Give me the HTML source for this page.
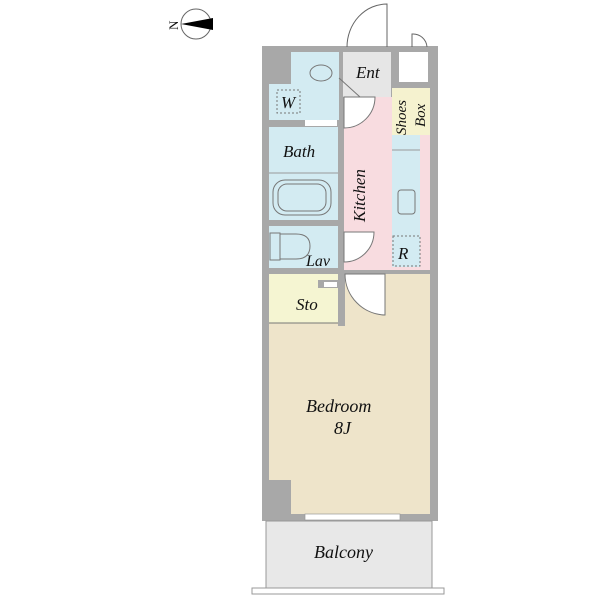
<!DOCTYPE html>
<html><head><style>body{margin:0;background:#fff}svg{display:block}text{font-family:"Liberation Serif",serif;font-style:italic;fill:#111}</style></head><body>
<svg width="600" height="600" viewBox="0 0 600 600">
<circle cx="196" cy="24" r="15" fill="#fff" stroke="#666" stroke-width="1"/>
<polygon points="181,24 213,18 213,30" fill="#000"/>
<text x="166" y="30" font-size="13" style="font-style:normal" transform="rotate(-90 172 24)">N</text>
<rect x="262" y="46" width="176" height="475" fill="#a8a8a8"/>
<rect x="343" y="52" width="48" height="45" fill="#e6e6e6"/>
<rect x="399" y="52" width="29" height="30" fill="#fff"/>
<rect x="269" y="52" width="70" height="68" fill="#d3ebf2"/>
<rect x="269" y="52" width="22" height="32" fill="#a8a8a8"/>
<rect x="291" y="52" width="48" height="6" fill="#d3ebf2"/>
<ellipse cx="321" cy="73" rx="11" ry="8" fill="none" stroke="#777"/>
<rect x="277" y="90" width="23" height="23" fill="none" stroke="#777" stroke-dasharray="2,2"/>
<rect x="305" y="120" width="32" height="6" fill="#fff"/>
<rect x="269" y="127" width="69" height="93" fill="#d3ebf2"/>
<line x1="269" y1="173" x2="338" y2="173" stroke="#999"/>
<rect x="273" y="180" width="58" height="35" rx="12" fill="none" stroke="#777"/>
<rect x="278" y="184" width="48" height="27" rx="9" fill="none" stroke="#777"/>
<rect x="269" y="226" width="69" height="42" fill="#d3ebf2"/>
<rect x="270" y="233" width="10" height="27" fill="none" stroke="#777"/>
<path d="M280 234 H296 Q310 234 310 246 Q310 259 296 259 H280 Z" fill="none" stroke="#777"/>
<rect x="344" y="97" width="49" height="173" fill="#f8dce0"/>
<rect x="393" y="88" width="37" height="182" fill="#f8dce0"/>
<rect x="392" y="88" width="38" height="47" fill="#f5f2cf"/>
<rect x="392" y="135" width="28" height="82" fill="#d3ebf2"/>
<line x1="392" y1="150" x2="420" y2="150" stroke="#999"/>
<rect x="398" y="190" width="17" height="24" rx="3" fill="none" stroke="#777"/>
<rect x="392" y="217" width="28" height="50" fill="#d3ebf2"/>
<rect x="393" y="236" width="27" height="30" fill="none" stroke="#777" stroke-dasharray="2,2"/>
<path d="M344 97 L375 97 A31 31 0 0 1 344 128 Z" fill="#fff" stroke="#777"/>
<line x1="339" y1="78" x2="360" y2="97" stroke="#777"/>
<path d="M344 232 L374 232 A30 30 0 0 1 344 262 Z" fill="#fff" stroke="#777"/>
<rect x="269" y="274" width="161" height="240" fill="#eee4ca"/>
<rect x="269" y="274" width="69" height="49" fill="#f5f5d2"/>
<rect x="338" y="274" width="7" height="52" fill="#a8a8a8"/>
<rect x="318" y="280" width="20" height="8" fill="#a8a8a8"/>
<rect x="324" y="282" width="13" height="5" fill="#fff"/>
<line x1="269" y1="323" x2="338" y2="323" stroke="#777"/>
<path d="M345 274 L385 274 L385 315 A41 41 0 0 1 345 274 Z" fill="#fff" stroke="#777"/>
<rect x="269" y="480" width="22" height="35" fill="#a8a8a8"/>
<rect x="305" y="514" width="95" height="6" fill="#fff" stroke="#999" stroke-width="0.7"/>
<path d="M347 47 A40 43 0 0 1 387 4 L387 47" fill="none" stroke="#666"/>
<path d="M412 47 L412 34 A14 14 0 0 1 427 47" fill="none" stroke="#666"/>
<rect x="266" y="521" width="166" height="68" fill="#e8e8e8" stroke="#999"/>
<rect x="252" y="588" width="192" height="6" fill="#fff" stroke="#999"/>
<text x="356" y="78" font-size="17">Ent</text>
<text x="281" y="108" font-size="17">W</text>
<text x="283" y="157" font-size="17">Bath</text>
<text x="306" y="266" font-size="16">Lav</text>
<text x="296" y="310" font-size="17">Sto</text>
<text x="398" y="259" font-size="17">R</text>
<text x="0" y="0" font-size="17" transform="translate(365 222) rotate(-90)">Kitchen</text>
<text x="0" y="0" font-size="15" transform="translate(406 135) rotate(-90)">Shoes</text>
<text x="0" y="0" font-size="15" transform="translate(425 127) rotate(-90)">Box</text>
<text x="306" y="412" font-size="18">Bedroom</text>
<text x="334" y="434" font-size="18">8J</text>
<text x="314" y="558" font-size="18">Balcony</text>
</svg>
</body></html>
